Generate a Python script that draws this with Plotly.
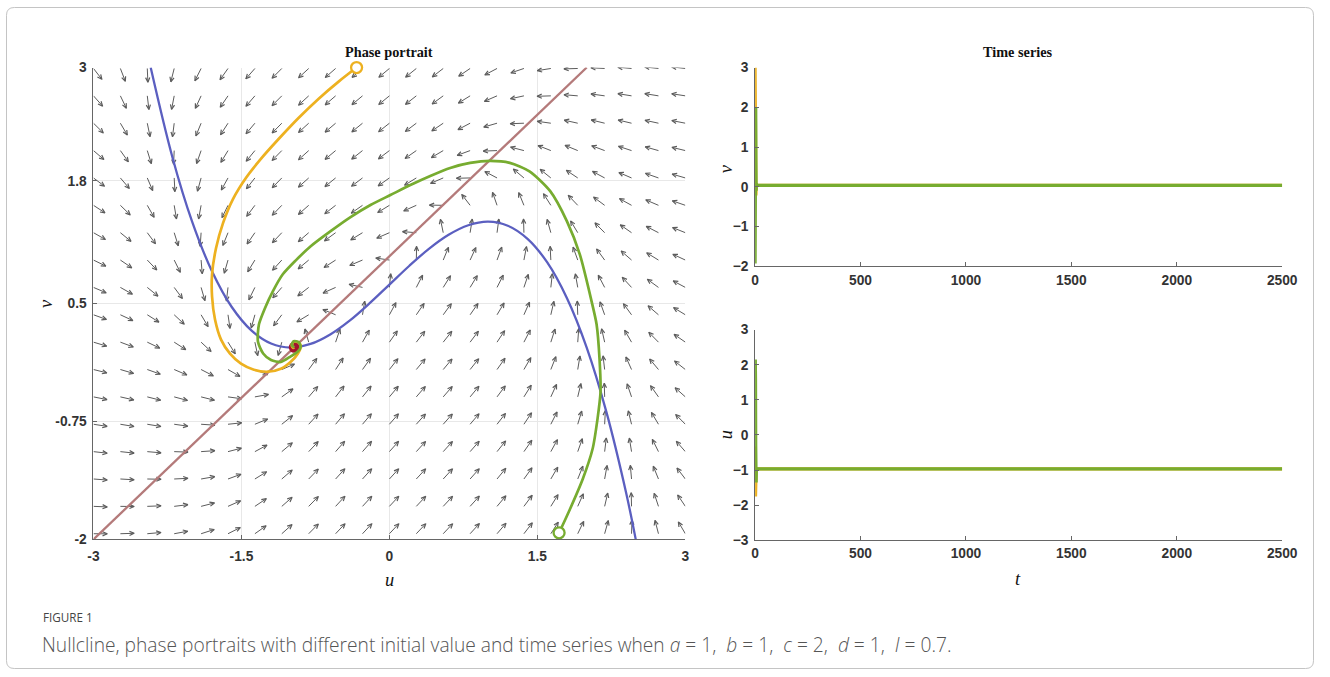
import numpy as np
import plotly.graph_objects as go

# ---------------- data ----------------
# model parameters (from caption)
A, B, C, D, I_EXT = 1, 1, 2, 1, 0.7

# u-nullcline (blue)
null_u = [-2.42, -2.2, -2.0, -1.8, -1.6, -1.4, -1.2, -1.0, -0.8, -0.6, -0.4, -0.2, 0.0,
          0.2, 0.4, 0.6, 0.8, 1.0, 1.2, 1.4, 1.6, 1.8, 2.0, 2.2, 2.4, 2.497]
null_v = [3.0, 2.05, 1.367, 0.844, 0.465, 0.215, 0.076, 0.033, 0.071, 0.172, 0.321, 0.503, 0.70,
          0.897, 1.079, 1.228, 1.329, 1.367, 1.324, 1.185, 0.935, 0.556, 0.033, -0.651, -1.508, -2.0]
# v-nullcline (brown)
line_u = [-3.0, 2.0]
line_v = [-2.0, 3.0]

# equilibrium
eq_u = [-0.965]
eq_v = [0.035]

# yellow trajectory
yel_u = [-0.333, -0.515, -0.717, -0.919, -1.121, -1.303, -1.455, -1.586, -1.687, -1.758, -1.798,
         -1.798, -1.768, -1.707, -1.616, -1.505, -1.374, -1.232, -1.101, -1.000, -0.929, -0.899,
         -0.919, -0.970, -0.990, -0.975, -0.965]
yel_v = [3.000, 2.851, 2.670, 2.468, 2.245, 2.032, 1.830, 1.606, 1.351, 1.085, 0.809,
         0.574, 0.330, 0.117, -0.032, -0.138, -0.202, -0.223, -0.191, -0.117, -0.032, 0.043,
         0.085, 0.096, 0.050, 0.030, 0.035]

# green trajectory
grn_u = [1.72, 1.83, 1.96, 2.06, 2.11, 2.14, 2.13, 2.10, 2.05, 1.93, 1.80, 1.63, 1.42, 1.22,
         1.020, 0.818, 0.616, 0.414, 0.212, 0.010, -0.192, -0.394, -0.596, -0.798, -0.949,
         -1.081, -1.182, -1.263, -1.323, -1.333, -1.28, -1.20, -1.10, -1.00, -0.93, -0.90,
         -0.92, -0.97, -0.99, -0.965]
grn_v = [-1.93, -1.68, -1.36, -1.04, -0.72, -0.44, -0.09, 0.28, 0.52, 1.02, 1.37, 1.69, 1.90, 1.99,
         2.011, 1.989, 1.936, 1.851, 1.755, 1.649, 1.543, 1.415, 1.266, 1.106, 0.957,
         0.809, 0.628, 0.447, 0.277, 0.096, -0.03, -0.10, -0.12, -0.06, -0.01, 0.04,
         0.09, 0.10, 0.06, 0.035]

# time series
ts_t = [0, 1, 2, 3, 4, 5, 6, 8, 2500]
yel_ts_u = [-0.33, -1.20, -1.75, -1.64, -1.23, -0.93, -0.97, -0.965, -0.965]
yel_ts_v = [3.00, 2.10, 0.90, 0.00, -0.22, -0.05, 0.07, 0.035, 0.035]
grn_ts_u = [1.72, 2.15, 1.60, -0.30, -1.20, -1.35, -1.00, -0.965, -0.965]
grn_ts_v = [-1.93, -0.40, 1.70, 2.01, 0.60, -0.10, 0.07, 0.035, 0.035]

# tick labels
pp_xticks = [-3, -1.5, 0, 1.5, 3]
pp_yticks = [-2, -0.75, 0.5, 1.8, 3]
ts_xticks = [0, 500, 1000, 1500, 2000, 2500]

# ---------------- layout constants ----------------
W, H = 1330, 677
# mapping from target picture pixels to figure pixels (compensates the photographing)
SX, SY, CX, CY = 0.987, 0.974, 4.2, 6.7
FS = 1.02  # font compensation

YEL = '#EDB120'
GRN = '#77AC30'
BLU = '#5b5fc0'
BRN = '#b47a7a'
RED = '#a2142f'
ARW = '#5c5c5c'


def fx(x):
    return (x - CX) / SX


def fy(y):
    return (y - CY) / SY


def px(x):
    return fx(x) / W


def py(y):
    return 1 - fy(y) / H


# phase-portrait box (target picture pixels)
L_X0, L_X1, L_Y0, L_Y1 = 92, 686, 67, 537
sx = (fx(L_X1) - fx(L_X0)) / 6.0
sy = (fy(L_Y1) - fy(L_Y0)) / 5.0

# ---------------- vector field ----------------
grid_u = np.linspace(-3, 3, 23)
grid_v = np.linspace(-1.94, 2.99, 18)
UU, VV = np.meshgrid(grid_u, grid_v)
DU = UU - UU ** 3 / 3 - VV + I_EXT
DV = UU + A - B * VV

shaft_x, shaft_y, head_x, head_y = [], [], [], []
L_PX = 14.0
HEAD_PX = 5.2
ang = np.deg2rad(24)
for u0, v0, du, dv in zip(UU.ravel(), VV.ravel(), DU.ravel(), DV.ravel()):
    ddx, ddy = du * sx, dv * sy
    n = np.hypot(ddx, ddy)
    if n == 0:
        continue
    ex, ey = ddx / n, ddy / n
    u1 = u0 + ex * L_PX / sx
    v1 = v0 + ey * L_PX / sy
    shaft_x += [u0, u1, None]
    shaft_y += [v0, v1, None]
    lx, ly = [], []
    for s in (1, -1):
        ca, sa = np.cos(s * ang), np.sin(s * ang)
        bx = -(ex * ca - ey * sa)
        by = -(ex * sa + ey * ca)
        lx.append(u1 + bx * HEAD_PX / sx)
        ly.append(v1 + by * HEAD_PX / sy)
    head_x += [lx[0], u1, lx[1], None]
    head_y += [ly[0], v1, ly[1], None]

fig = go.Figure()

fig.add_trace(go.Scatter(x=shaft_x, y=shaft_y, mode='lines', line=dict(color=ARW, width=1),
                         hoverinfo='skip', showlegend=False, xaxis='x', yaxis='y'))
fig.add_trace(go.Scatter(x=head_x, y=head_y, mode='lines', line=dict(color=ARW, width=1.2),
                         hoverinfo='skip', showlegend=False, xaxis='x', yaxis='y'))

fig.add_trace(go.Scatter(x=null_u, y=null_v, mode='lines', line=dict(color=BLU, width=2.3, shape='spline'),
                         showlegend=False, xaxis='x', yaxis='y'))
fig.add_trace(go.Scatter(x=line_u, y=line_v, mode='lines', line=dict(color=BRN, width=2.3),
                         showlegend=False, xaxis='x', yaxis='y'))
fig.add_trace(go.Scatter(x=eq_u, y=eq_v, mode='markers', marker=dict(color=RED, size=11),
                         showlegend=False, xaxis='x', yaxis='y'))
fig.add_trace(go.Scatter(x=yel_u, y=yel_v, mode='lines', line=dict(color=YEL, width=2.7, shape='spline', smoothing=0.7),
                         showlegend=False, xaxis='x', yaxis='y'))
fig.add_trace(go.Scatter(x=grn_u, y=grn_v, mode='lines', line=dict(color=GRN, width=2.7, shape='spline', smoothing=0.7),
                         showlegend=False, xaxis='x', yaxis='y'))
fig.add_trace(go.Scatter(x=[yel_u[0]], y=[yel_v[0]], mode='markers',
                         marker=dict(color='white', size=11, line=dict(color=YEL, width=2.3)),
                         showlegend=False, xaxis='x', yaxis='y', cliponaxis=False))
fig.add_trace(go.Scatter(x=[grn_u[0]], y=[grn_v[0]], mode='markers',
                         marker=dict(color='white', size=11, line=dict(color=GRN, width=2.3)),
                         showlegend=False, xaxis='x', yaxis='y', cliponaxis=False))

# time series
fig.add_trace(go.Scatter(x=ts_t, y=yel_ts_v, mode='lines', line=dict(color=YEL, width=3.2),
                         showlegend=False, xaxis='x2', yaxis='y2', cliponaxis=False))
fig.add_trace(go.Scatter(x=ts_t, y=grn_ts_v, mode='lines', line=dict(color=GRN, width=3.2),
                         showlegend=False, xaxis='x2', yaxis='y2', cliponaxis=False))
fig.add_trace(go.Scatter(x=ts_t, y=yel_ts_u, mode='lines', line=dict(color=YEL, width=3.2),
                         showlegend=False, xaxis='x3', yaxis='y3', cliponaxis=False))
fig.add_trace(go.Scatter(x=ts_t, y=grn_ts_u, mode='lines', line=dict(color=GRN, width=3.2),
                         showlegend=False, xaxis='x3', yaxis='y3', cliponaxis=False))

tickfont = dict(family='Liberation Sans, Arial, sans-serif', size=13.5 * FS, color='#333', weight='bold')
axis_common = dict(showline=True, linecolor='#666', linewidth=1, ticks='inside', ticklen=4,
                   tickcolor='#666', zeroline=False, tickfont=tickfont, fixedrange=True)

fig.update_layout(
    width=W, height=H,
    margin=dict(l=0, r=0, t=0, b=0),
    paper_bgcolor='white', plot_bgcolor='white',
    xaxis=dict(domain=[px(L_X0), px(L_X1)], range=[-3, 3], tickvals=pp_xticks,
               ticktext=[str(t) for t in pp_xticks], showgrid=True, gridcolor='#e8e8e8',
               anchor='y', ticklabelstandoff=4, **axis_common),
    yaxis=dict(domain=[py(L_Y1), py(L_Y0)], range=[-2, 3], tickvals=pp_yticks,
               ticktext=[str(t) for t in pp_yticks], showgrid=True, gridcolor='#e8e8e8',
               anchor='x', ticklabelstandoff=3, **axis_common),
    xaxis2=dict(domain=[px(756), px(1285)], range=[0, 2500], tickvals=ts_xticks,
                showgrid=False, anchor='y2', ticklabelstandoff=1, **axis_common),
    yaxis2=dict(domain=[py(265), py(67)], range=[-2, 3], dtick=1,
                showgrid=False, anchor='x2', ticklabelstandoff=3, **axis_common),
    xaxis3=dict(domain=[px(756), px(1285)], range=[0, 2500], tickvals=ts_xticks,
                showgrid=False, anchor='y3', ticklabelstandoff=0, **axis_common),
    yaxis3=dict(domain=[py(538), py(328)], range=[-3, 3], dtick=1,
                showgrid=False, anchor='x3', ticklabelstandoff=3, **axis_common),
)

serif_b = dict(family='Liberation Serif, Times New Roman, serif', size=14 * FS, color='#111', weight='bold')
serif_i = dict(family='Liberation Serif, Times New Roman, serif', size=18 * FS, color='#111', style='italic')
cap_font = dict(family='Open Sans, sans-serif', size=19.2, color='#555', weight=300)

ann = [
    dict(x=px(389), y=py(52), text='Phase portrait', font=serif_b),
    dict(x=px(1020), y=py(52), text='Time series', font=serif_b),
    dict(x=px(389), y=py(577), text='u', font=serif_i),
    dict(x=px(45), y=py(302), text='v', font=serif_i, textangle=-90),
    dict(x=px(727), y=py(168), text='v', font=serif_i, textangle=-90),
    dict(x=px(727), y=py(433), text='u', font=serif_i, textangle=-90),
    dict(x=px(1020), y=py(576), text='t', font=serif_i),
    dict(x=px(39), y=py(614), text='FIGURE 1', xanchor='left',
         font=dict(family='Open Sans, sans-serif', size=11.7, color='#444')),
    dict(x=px(38), y=py(642), xanchor='left', font=cap_font,
         text='Nullcline, phase portraits with different initial value and time series when '
              '<i>a</i> = 1,  <i>b</i> = 1,  <i>c</i> = 2,  <i>d</i> = 1,  <i>I</i> = 0.7.'),
]
for a in ann:
    a.setdefault('xanchor', 'center')
    a.update(xref='paper', yref='paper', yanchor='middle', showarrow=False)
fig.update_layout(annotations=ann)

# rounded frame around the whole figure (figure pixels)
x0, y0, x1, y1, r = 0.5, 0.5, W - 0.5, H - 0.5, 8


def qx(v):
    return v / W


def qy(v):
    return 1 - v / H


path = (f'M {qx(x0 + r)},{qy(y0)} L {qx(x1 - r)},{qy(y0)} Q {qx(x1)},{qy(y0)} {qx(x1)},{qy(y0 + r)} '
        f'L {qx(x1)},{qy(y1 - r)} Q {qx(x1)},{qy(y1)} {qx(x1 - r)},{qy(y1)} '
        f'L {qx(x0 + r)},{qy(y1)} Q {qx(x0)},{qy(y1)} {qx(x0)},{qy(y1 - r)} '
        f'L {qx(x0)},{qy(y0 + r)} Q {qx(x0)},{qy(y0)} {qx(x0 + r)},{qy(y0)} Z')
fig.add_shape(type='path', path=path, xref='paper', yref='paper',
              line=dict(color='#c4c4c4', width=1), layer='below')

fig.write_html('out.html', config={'displayModeBar': False})
